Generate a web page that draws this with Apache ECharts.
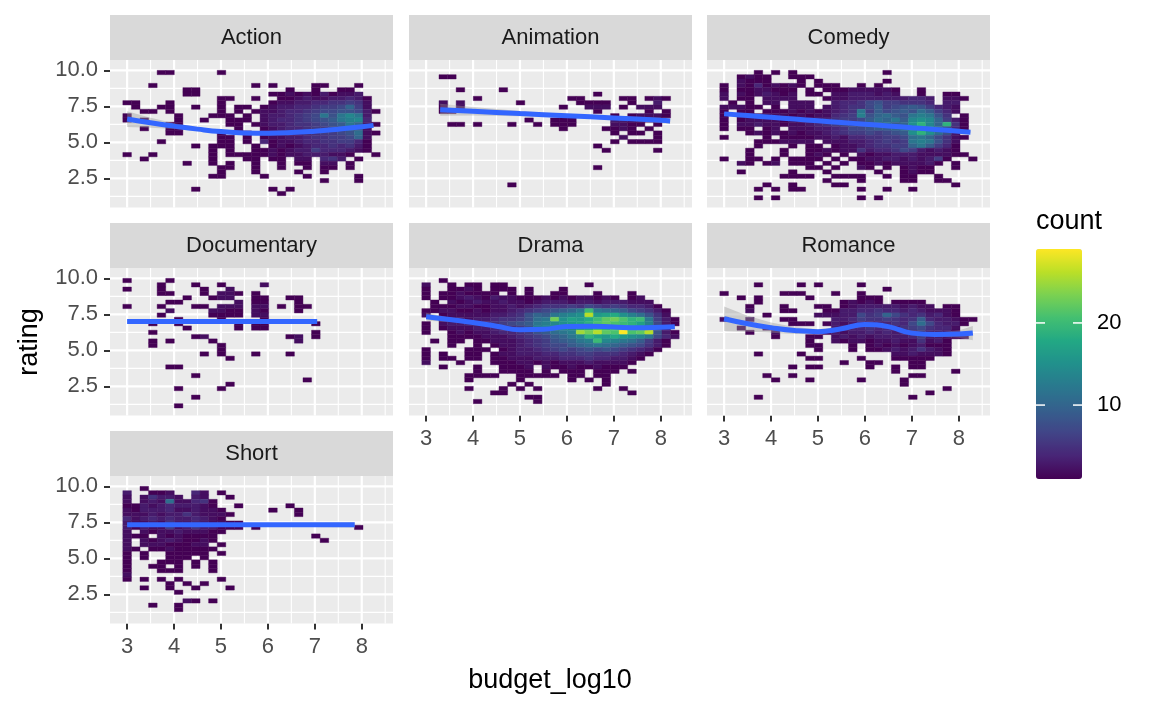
<!DOCTYPE html>
<html>
<head>
<meta charset="utf-8">
<title>rating vs budget_log10, by genre</title>
<script src="https://cdn.jsdelivr.net/npm/echarts@6.0.0/dist/echarts.min.js"></script>
<style>
  html, body { margin: 0; padding: 0; background: #ffffff; }
  #chart { width: 1152px; height: 711px; }
</style>
</head>
<body>
<div id="chart"></div>
<script>
// facets in plotting order (3 per row)
const GENRES = ['Action', 'Animation', 'Comedy', 'Documentary', 'Drama', 'Romance', 'Short'];

// 30 x 30 bins: centre of the first bin and bin size
const X_BIN_START = 3.0;
const X_BIN_WIDTH = 0.1828;
const Y_BIN_START = 1.15;
const Y_BIN_HEIGHT = 0.3;

const X_TICKS = [3, 4, 5, 6, 7, 8];
const X_MINOR = [3.5, 4.5, 5.5, 6.5, 7.5, 8.5];
const Y_TICKS = [2.5, 5, 7.5, 10];
const Y_MINOR = [1.25, 3.75, 6.25, 8.75];
const COUNT_TICKS = [10, 20];
const COUNT_RANGE = [1, 29];

// counts: one string per rating bin, top (9.7-10) first, one char per budget bin.
// '.' = no movies, otherwise a base-36 digit (a = 10 ... t = 29)
const ACTION_COUNTS = [
  '....11.....1..................',
  '..............................',
  '..............................',
  '...1...........1.1....11...1..',
  '.......11..........1..1..11...',
  '.......11........11212131223..',
  '...........11..1..11232233431.',
  '11...1.....1.....122334455652.',
  '.1..11..1..1.11.1233445667a62.',
  '..11.1.....1.1.122344567788731',
  '1.....1...111.1.2334567c8cec3.',
  '1.1...1..1..111.234456789cde4.',
  '.....11.....11.12334556789ca31',
  '..1..11......1..1234456678a92.',
  '.....11....1..1.22334556678b21',
  '...........11.1.12233455667a2.',
  '....1......11.1.4122344556641.',
  '........1.111..1.121234454531.',
  '..........1.1..11212336444321.',
  '1..1......1.111112122333221..1',
  '..1.......1...11.11.22.453.1..',
  '.......1..1.1..1..1.11.22.1...',
  '...........11..1..1..1.11.1...',
  '...........1...1....1..1......',
  '..........11....1....1.....1..',
  '.......................1...1..',
  '..............................',
  '........1........1.1..........',
  '..................1...........',
  '..............................'
];
const ANIMATION_COUNTS = [
  '..............................',
  '..11..........................',
  '..............................',
  '..............................',
  '....1....1....................',
  '....................1.........',
  '......1..........11....11.121.',
  '..2.2......1......1111..1..3..',
  '..1.2...........1..222.1.222..',
  '..11................1.....1.1.',
  '......................1.12221.',
  '............1..111....332211..',
  '...11.1...1..1.111....2211.1..',
  '................1....1121.1...',
  '......................1.11.1..',
  '.......................2...1..',
  '......................1.1111..',
  '....................1.........',
  '.....................1.....1..',
  '..............................',
  '..............................',
  '..............................',
  '....................1.........',
  '..............................',
  '..............................',
  '..............................',
  '..........1...................',
  '..............................',
  '..............................',
  '..............................'
];
const COMEDY_COUNTS = [
  '....1.1.1..........1..........',
  '..1211..111...................',
  '..2111...1.1.......1..........',
  '1.21412121.111..1.1...........',
  '1.1122111.1.111222221..1......',
  '2.2123212.11.22333232..1..11..',
  '2.11.2222...1223333333443.221.',
  '.1.1.22.222..344578665554.33..',
  '22211.1.222.2345579678986432..',
  '1.11.11121212345c697898b9642..',
  '1.22222212122456d8ab98cdc85.1.',
  '1.1222212233456679bac9efea631.',
  '1.2232212234567778ab9afjeaj51.',
  '1.11.12.222334577899abdfeb841.',
  '...1212121223456676789fjfb83..',
  '1....1.111122324455667bca7521.',
  '....1112222.2223345656cdc852..',
  '....1...1.11.122345566ac9641..',
  '...1...1..112122534457632321..',
  '...1...1..121.1.2122333222211.',
  '1..11.1.1111.1.112233232361..1',
  '..21.12.111.1.1.1121222231.1..',
  '..........11.1..21.1.1211..1..',
  '..1.....1...1.....1..1211.....',
  '.......1111..1111..1.11..1....',
  '............1...1....11..11...',
  '.....1..1....11............1..',
  '....1.1.11......1..1..1.......',
  '..............................',
  '....1.1.........1.1...........'
];
const DOCUMENTARY_COUNTS = [
  '1....1........................',
  '....1...1..1....2.............',
  '1...1....1..2.................',
  '....11...1.221.1..............',
  '.......1..122..11..11.........',
  '.....11......2.11...1.........',
  '1...1...11.222.22.1.11........',
  '.....2....2211.21...1.........',
  '....1.....1111.22.............',
  '......1....1....1.............',
  '...1..1......1.11.....1.......',
  '.......1.....1.11.............',
  '...1..................1.......',
  '........12.........12.1.......',
  '...1.1....1.........2.........',
  '...1.......1..................',
  '...........1..................',
  '.........1.1...1...1..........',
  '............1.................',
  '..............................',
  '.....11.......................',
  '..............................',
  '........1.....................',
  '.....................1........',
  '............1.................',
  '......1....1..................',
  '..............................',
  '........1.....................',
  '..............................',
  '......1.......................'
];
const DRAMA_COUNTS = [
  '..1...........................',
  '2..1.11.11.........1..........',
  '1..1121.111.1...1.............',
  '1.1121111.1.1..11...1...1.....',
  '1.112321322111212122121.12....',
  '.1.212322322123332332333222...',
  '.111221122323455565765654431..',
  '11221121223456789ackcba976531.',
  '2.12222233458a9cdefqghifdb852.',
  '..12323345568bcnfhgikmnljkc631',
  '1.23344456789cdefghjlmlkjhd731',
  '1.12223344568deefeghkjlmihc63.',
  '1..121223445689bcdpnqmltlmq831',
  '...1111222345679acejhgigfec742',
  '.1.11.11222345689acdkedcb9631.',
  '...1..1.1223456779abcba987531.',
  '1....111.1233456767878765431..',
  '1.1..11.1223334455665554321...',
  '1.11.11.112223334445443321....',
  '2...1...11122121222322221.....',
  '..1...1..1112.2112112111......',
  '......1..1111.1.111.111.1.....',
  '.....1111..11111.11.11........',
  '.....1.....1.....1.1.1........',
  '..........1.1........1........',
  '.....1...1.1.1......1..1......',
  '........11..............1.....',
  '............11................',
  '......1......1................',
  '..............................'
];
const ROMANCE_COUNTS = [
  '..............................',
  '....1....1.1....1.............',
  '...................1..........',
  '1......111...1..1.............',
  '..1.1.....1.....111...........',
  '....1.........12121.1111......',
  '...1...1...11.12333332322.11..',
  '...2...11...1133445443432221..',
  '.....1.....22233756a75453421..',
  '2..2...11....33465565459433211',
  '........111.13234434547b74331.',
  '..1..1.......334454435675442..',
  '...1..2.....1323343434564431..',
  '......1...11.2323233334633211.',
  '..........1..21221223225231...',
  '..........11...1.1212123111...',
  '...........1...1.1123235321...',
  '....1....1..........2232221...',
  '..........11....1...11111.....',
  '..............1..11...11......',
  '........1.11.....1..1.11......',
  '....................1......1..',
  '.....1..1.............11......',
  '......1...1.....1....1........',
  '.....................1........',
  '..........................1...',
  '........................1.....',
  '....1.................1.......',
  '..............................',
  '..............................'
];
const SHORT_COUNTS = [
  '..1...........................',
  '3..112..42.1..................',
  '2.25332.32..1.................',
  '2.232b22451...................',
  '11323433321..1.....1..........',
  '213334223221.....1..1.........',
  '2223233532221.......1.........',
  '423434334321..................',
  '32232533432211................',
  '31322623533111.1...........1..',
  '2.2122322211..................',
  '211.2121111...........1.......',
  '2.212321121............1......',
  '2.22211122.1..................',
  '21.11211111...................',
  '1.1..11111.1..................',
  '1.1..111.1....................',
  '1...111.1.1...................',
  '1..11.1.1.1...................',
  '1...111...1...................',
  '2.............................',
  '1.1.1.1....1..................',
  '.....1.1.1....................',
  '..1..1..1...1.................',
  '......1.......................',
  '..............................',
  '.......21.1...................',
  '...1..1.......................',
  '......1.......................',
  '..............................'
];

// loess fits: [budget_log10, rating, half-width of the grey band]
const ACTION_FIT = [
  [3.0, 6.62, 0.55], [3.5, 6.36, 0.35], [4.0, 6.13, 0.2], [4.5, 5.92, 0.13], [5.0, 5.75, 0.1],
  [5.5, 5.66, 0.08], [6.0, 5.64, 0.07], [6.5, 5.68, 0.06], [7.0, 5.78, 0.06], [7.5, 5.92, 0.07],
  [8.0, 6.08, 0.09], [8.25, 6.18, 0.13]
];
const ANIMATION_FIT = [
  [3.3, 7.27, 0.42], [4.0, 7.16, 0.3], [5.0, 7.0, 0.18], [6.0, 6.85, 0.12], [7.0, 6.7, 0.12],
  [8.0, 6.53, 0.18], [8.2, 6.49, 0.22]
];
const COMEDY_FIT = [
  [3.0, 6.98, 0.12], [3.5, 6.86, 0.09], [4.0, 6.74, 0.07], [4.5, 6.62, 0.06], [5.0, 6.5, 0.05],
  [5.5, 6.38, 0.05], [6.0, 6.26, 0.04], [6.5, 6.14, 0.04], [7.0, 6.02, 0.04], [7.5, 5.9, 0.05],
  [8.0, 5.77, 0.06], [8.25, 5.71, 0.08]
];
const DOCUMENTARY_FIT = [
  [3.0, 7.0, 0.15], [4.0, 7.0, 0.1], [5.0, 7.0, 0.08], [6.0, 7.0, 0.1], [7.05, 7.0, 0.15]
];
const DRAMA_FIT = [
  [3.0, 7.34, 0.28], [3.5, 7.14, 0.15], [4.0, 6.93, 0.1], [4.5, 6.68, 0.07], [5.0, 6.44, 0.05],
  [5.5, 6.46, 0.04], [6.0, 6.66, 0.04], [6.5, 6.68, 0.04], [7.0, 6.62, 0.04], [7.5, 6.57, 0.04],
  [8.0, 6.6, 0.05], [8.3, 6.64, 0.07]
];
const ROMANCE_FIT = [
  [3.0, 7.2, 0.85], [3.5, 6.85, 0.55], [4.0, 6.58, 0.36], [4.5, 6.38, 0.24], [5.0, 6.3, 0.17],
  [5.5, 6.5, 0.14], [6.0, 6.8, 0.12], [6.5, 6.65, 0.12], [7.0, 6.2, 0.11], [7.5, 6.1, 0.13],
  [8.0, 6.13, 0.25], [8.3, 6.2, 0.5]
];
const SHORT_FIT = [
  [3.0, 7.33, 0.1], [4.0, 7.33, 0.06], [5.0, 7.33, 0.08], [6.0, 7.33, 0.12], [7.0, 7.33, 0.15],
  [7.85, 7.33, 0.18]
];

const COUNTS = [ACTION_COUNTS, ANIMATION_COUNTS, COMEDY_COUNTS, DOCUMENTARY_COUNTS, DRAMA_COUNTS, ROMANCE_COUNTS, SHORT_COUNTS];
const FITS = [ACTION_FIT, ANIMATION_FIT, COMEDY_FIT, DOCUMENTARY_FIT, DRAMA_FIT, ROMANCE_FIT, SHORT_FIT];

// layout
const FONT = 'Liberation Sans, Arial, Helvetica, sans-serif';
const X_MIN = 2.635, X_MAX = 8.666;
const Y_MIN = 0.48, Y_MAX = 10.72;
const PANEL_LEFT = [110, 409, 707];
const PANEL_TOP = [60, 268, 476];
const PANEL_W = 283, PANEL_H = 147.5, STRIP_H = 45;
const BAR = { left: 1036, top: 249, width: 46, height: 230 };
const VIRIDIS = ['#440154', '#482576', '#414487', '#35608D', '#2A788E', '#21908C',
                 '#22A884', '#43BF71', '#7AD151', '#BBDF27', '#FDE725'];

function parseCounts(rows) {
  const cells = [];
  rows.forEach((row, r) => {
    const j = rows.length - 1 - r;
    row.padEnd(30, '.').slice(0, 30).split('').forEach((ch, k) => {
      if (ch === '.') return;
      cells.push([X_BIN_START + k * X_BIN_WIDTH, Y_BIN_START + j * Y_BIN_HEIGHT, parseInt(ch, 36)]);
    });
  });
  return cells;
}

// white panel grid, drawn under the tiles
const GRID_LINES = [].concat(
  X_TICKS.map(v => [0, v, 1]), X_MINOR.map(v => [0, v, 0]),
  Y_TICKS.map(v => [1, v, 1]), Y_MINOR.map(v => [1, v, 0])
);

function renderGridLine(params, api) {
  const r = params.coordSys;
  const v = api.value(1);
  const style = { stroke: '#FFFFFF', lineWidth: api.value(2) ? 2.2 : 1.1 };
  if (api.value(0) === 1) {
    const y = api.coord([X_MIN, v])[1];
    return { type: 'line', shape: { x1: r.x, y1: y, x2: r.x + r.width, y2: y }, style };
  }
  const x = api.coord([v, Y_MIN])[0];
  return { type: 'line', shape: { x1: x, y1: r.y, x2: x, y2: r.y + r.height }, style };
}

function renderCell(params, api) {
  const x = api.value(0), y = api.value(1);
  const a = api.coord([x - X_BIN_WIDTH / 2, y + Y_BIN_HEIGHT / 2]);
  const b = api.coord([x + X_BIN_WIDTH / 2, y - Y_BIN_HEIGHT / 2]);
  const color = api.visual('color');
  return {
    type: 'rect',
    shape: { x: a[0], y: a[1], width: b[0] - a[0], height: b[1] - a[1] },
    style: { fill: color, stroke: color, lineWidth: 0.4 }
  };
}

function bandRenderer(fit) {
  return function (params, api) {
    const upper = fit.map(p => api.coord([p[0], p[1] + p[2]]));
    const lower = fit.slice().reverse().map(p => api.coord([p[0], p[1] - p[2]]));
    return { type: 'polygon', shape: { points: upper.concat(lower) }, style: { fill: 'rgba(153,153,153,0.4)' } };
  };
}

const grids = [], xAxes = [], yAxes = [], series = [], graphics = [], cellSeries = [];

GENRES.forEach((name, i) => {
  const row = Math.floor(i / 3), col = i % 3;
  const left = PANEL_LEFT[col], top = PANEL_TOP[row];
  const showX = i + 3 >= GENRES.length; // nothing underneath this panel
  const showY = col === 0;

  grids.push({
    left, top, width: PANEL_W, height: PANEL_H,
    show: true, backgroundColor: '#EBEBEB', borderWidth: 0,
    containLabel: false, outerBoundsMode: 'none'
  });
  xAxes.push({
    gridIndex: i, type: 'value', min: X_MIN, max: X_MAX,
    axisLine: { show: false, onZero: false },
    splitLine: { show: false },
    axisTick: { show: showX, customValues: X_TICKS, length: 6, lineStyle: { color: '#333333', width: 2 } },
    axisLabel: { show: showX, customValues: X_TICKS, color: '#4D4D4D', fontSize: 22, fontFamily: FONT, margin: 12 }
  });
  yAxes.push({
    gridIndex: i, type: 'value', min: Y_MIN, max: Y_MAX,
    axisLine: { show: false, onZero: false },
    splitLine: { show: false },
    axisTick: { show: showY, customValues: Y_TICKS, length: 6, lineStyle: { color: '#333333', width: 2 } },
    axisLabel: {
      show: showY, customValues: Y_TICKS, color: '#4D4D4D', fontSize: 22, fontFamily: FONT, margin: 12,
      formatter: v => Number(v).toFixed(1)
    }
  });

  series.push({
    type: 'custom', xAxisIndex: i, yAxisIndex: i, z: 1, silent: true,
    data: GRID_LINES, renderItem: renderGridLine
  });
  cellSeries.push(series.length);
  series.push({
    type: 'custom', name, xAxisIndex: i, yAxisIndex: i, z: 2,
    data: parseCounts(COUNTS[i]), renderItem: renderCell
  });
  series.push({
    type: 'custom', xAxisIndex: i, yAxisIndex: i, z: 3, silent: true,
    data: [[FITS[i][0][0], FITS[i][0][1]]], renderItem: bandRenderer(FITS[i])
  });
  series.push({
    type: 'line', xAxisIndex: i, yAxisIndex: i, z: 4, silent: true,
    data: FITS[i].map(p => [p[0], p[1]]),
    smooth: 0.5, showSymbol: false, symbol: 'none',
    lineStyle: { color: '#3366FF', width: 5 }
  });

  // facet strip
  graphics.push({
    type: 'rect', left, top: top - STRIP_H, silent: true,
    shape: { width: PANEL_W, height: STRIP_H }, style: { fill: '#D9D9D9' }
  });
  graphics.push({
    type: 'text', x: left + PANEL_W / 2, y: top - STRIP_H / 2, silent: true,
    style: { text: name, fill: '#1A1A1A', fontSize: 22, fontFamily: FONT, align: 'center', verticalAlign: 'middle' }
  });
});

// axis titles
graphics.push({
  type: 'text', x: 30, y: 342, rotation: Math.PI / 2, silent: true,
  style: { text: 'rating', fill: '#000000', fontSize: 27, fontFamily: FONT, align: 'center', verticalAlign: 'middle' }
});
graphics.push({
  type: 'text', x: (PANEL_LEFT[0] + PANEL_LEFT[2] + PANEL_W) / 2, y: 681, silent: true,
  style: { text: 'budget_log10', fill: '#000000', fontSize: 27, fontFamily: FONT, align: 'center', verticalAlign: 'middle' }
});

// colour bar title, ticks and labels
graphics.push({
  type: 'text', x: BAR.left, y: 222, silent: true,
  style: { text: 'count', fill: '#000000', fontSize: 27, fontFamily: FONT, align: 'left', verticalAlign: 'middle' }
});
COUNT_TICKS.forEach(v => {
  const y = BAR.top + (COUNT_RANGE[1] - v) / (COUNT_RANGE[1] - COUNT_RANGE[0]) * BAR.height;
  graphics.push({
    type: 'line', silent: true, z: 100,
    shape: { x1: BAR.left, y1: y, x2: BAR.left + 9, y2: y }, style: { stroke: '#FFFFFF', lineWidth: 1.5 }
  });
  graphics.push({
    type: 'line', silent: true, z: 100,
    shape: { x1: BAR.left + BAR.width - 9, y1: y, x2: BAR.left + BAR.width, y2: y }, style: { stroke: '#FFFFFF', lineWidth: 1.5 }
  });
  graphics.push({
    type: 'text', x: BAR.left + BAR.width + 15, y, silent: true,
    style: { text: String(v), fill: '#000000', fontSize: 22, fontFamily: FONT, align: 'left', verticalAlign: 'middle' }
  });
});

const chart = echarts.init(document.getElementById('chart'));
chart.setOption({
  animation: false,
  backgroundColor: '#FFFFFF',
  textStyle: { fontFamily: FONT },
  grid: grids,
  xAxis: xAxes,
  yAxis: yAxes,
  visualMap: {
    type: 'continuous', min: COUNT_RANGE[0], max: COUNT_RANGE[1], dimension: 2,
    seriesIndex: cellSeries, calculable: false, orient: 'vertical',
    left: BAR.left, top: BAR.top, itemWidth: BAR.width, itemHeight: BAR.height,
    padding: 0, inRange: { color: VIRIDIS }
  },
  graphic: { elements: graphics },
  series
});
</script>
</body>
</html>
